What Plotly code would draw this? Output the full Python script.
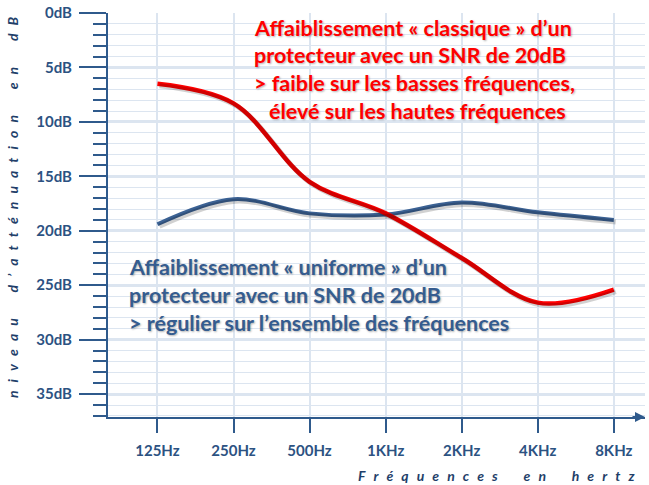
import plotly.graph_objects as go

# ---- data ----
freqs = ["125Hz", "250Hz", "500Hz", "1KHz", "2KHz", "4KHz", "8KHz"]
classique = [6.5, 8.3, 15.5, 18.4, 22.5, 26.6, 25.4]
uniforme = [19.4, 17.1, 18.4, 18.5, 17.4, 18.3, 19.0]
y_ticks = [0, 5, 10, 15, 20, 25, 30, 35]
y_labels = ["0dB", "5dB", "10dB", "15dB", "20dB", "25dB", "30dB", "35dB"]

red_lines = [
    "Affaiblissement « classique » d’un",
    "protecteur avec un SNR de 20dB",
    "> faible sur les basses fréquences,",
    "élevé sur les hautes fréquences",
]
blue_lines = [
    "Affaiblissement « uniforme » d’un",
    "protecteur avec un SNR de 20dB",
    "> régulier sur l’ensemble des fréquences",
]
x_title = "Fréquences en hertz"
y_title = "niveau d’atténuation en dB"

# ---- layout geometry ----
W, H = 649, 485
L, R, T, B = 108, 4, 13, 68
PW, PH = W - L - R, H - T - B
XR = [-0.65, 6.41]
YR = [37.1, 0]

def px_x(p):
    return (p - L) / PW

def px_y(p):
    return 1 - (p - T) / PH

def spaced(s):
    gap = "\u2002\u2009"
    words = s.split(" ")
    return (gap + "\u2003" + gap).join(gap.join(list(w)) for w in words)

AXC = "#2F5A8C"
TXT = "#2C5282"
RED = "#FF0000"
BLUE = "#3B6193"
FONT = "Lato"
TSIZE = 21.5

# shadow offsets (2px right, 2px down) expressed as axis-range shifts
dx = 2 * (XR[1] - XR[0]) / PW
dy = 2 * (YR[0] - YR[1]) / PH

fig = go.Figure()
for vals in (uniforme, classique):
    fig.add_trace(go.Scatter(x=freqs, y=vals, mode="lines", xaxis="x2", yaxis="y2",
                             line=dict(color="rgba(0,0,0,0.18)", width=5,
                                       shape="spline", smoothing=1),
                             hoverinfo="skip"))
fig.add_trace(go.Scatter(x=freqs, y=uniforme, mode="lines",
                         line=dict(color=BLUE, width=4, shape="spline", smoothing=1),
                         hoverinfo="skip"))
fig.add_trace(go.Scatter(x=freqs, y=classique, mode="lines",
                         line=dict(color=RED, width=4.5, shape="spline", smoothing=1),
                         hoverinfo="skip"))

annotations = []
red_y = [28, 55.5, 83, 110.5]
red_x = [252, 252, 252, 267]
for t, yy, xx in zip(red_lines, red_y, red_x):
    annotations.append(dict(text=t, xref="paper", yref="paper", x=px_x(xx), y=px_y(yy),
                            xanchor="left", yanchor="middle", showarrow=False,
                            font=dict(family=FONT, size=TSIZE, color=RED, weight="bold",
                                      shadow="1px 1px 2px rgba(0,0,0,0.3)")))
blue_y = [267, 295, 323]
for t, yy in zip(blue_lines, blue_y):
    annotations.append(dict(text=t, xref="paper", yref="paper", x=px_x(127), y=px_y(yy),
                            xanchor="left", yanchor="middle", showarrow=False,
                            font=dict(family=FONT, size=TSIZE, color="#355C8F", weight="bold",
                                      shadow="1px 1px 2px rgba(0,0,0,0.3)")))
# axis titles
annotations.append(dict(text=spaced(x_title), xref="paper", yref="paper",
                        x=px_x(636), y=px_y(476), xanchor="right", yanchor="middle",
                        showarrow=False,
                        font=dict(family=FONT, size=14, color="#1F3F6A", style="italic",
                                  weight="bold")))
annotations.append(dict(text=spaced(y_title), xref="paper", yref="paper",
                        x=px_x(12), y=px_y(207), xanchor="center", yanchor="middle",
                        textangle=-90, showarrow=False,
                        font=dict(family=FONT, size=14, color="#1F3F6A", style="italic",
                                  weight="bold")))
# arrow at end of x axis
annotations.append(dict(text="", xref="paper", yref="paper", x=1.0, y=0,
                        ax=-14, ay=0, showarrow=True, arrowhead=2, arrowsize=1,
                        arrowwidth=2, arrowcolor=AXC))

fig.update_layout(
    width=W, height=H,
    margin=dict(l=L, r=R, t=T, b=B),
    paper_bgcolor="white", plot_bgcolor="white",
    showlegend=False,
    annotations=annotations,
    xaxis=dict(
        type="category", range=XR, categoryorder="array", categoryarray=freqs,
        showgrid=True, gridcolor="#DCE5F0", gridwidth=1.5,
        showline=True, linecolor=AXC, linewidth=2,
        ticks="outside", ticklen=14, tickwidth=1.5, tickcolor=AXC,
        ticklabelstandoff=5,
        tickfont=dict(family=FONT, size=15, color=TXT, weight="bold"),
        zeroline=False,
    ),
    yaxis=dict(
        range=YR, autorange=False,
        tickmode="array", tickvals=y_ticks, ticktext=y_labels,
        showgrid=True, gridcolor="#DCE5F0", gridwidth=3,
        showline=True, linecolor=AXC, linewidth=2,
        ticks="outside", ticklen=27, tickwidth=2, tickcolor=AXC,
        ticklabelstandoff=4,
        tickfont=dict(family=FONT, size=15, color=TXT, weight="bold"),
        zeroline=False,
        minor=dict(tickmode="linear", tick0=0, dtick=1, ticks="outside", ticklen=13,
                   tickwidth=1.5, tickcolor=AXC, showgrid=True,
                   gridcolor="#DCE5F0", gridwidth=1),
    ),
    xaxis2=dict(type="category", categoryorder="array", categoryarray=freqs,
                range=[XR[0] - dx, XR[1] - dx], overlaying="x", visible=False,
                anchor="y2"),
    yaxis2=dict(range=[YR[0] - dy, YR[1] - dy], autorange=False, overlaying="y",
                visible=False, anchor="x2"),
)

fig.write_html("out.html")
